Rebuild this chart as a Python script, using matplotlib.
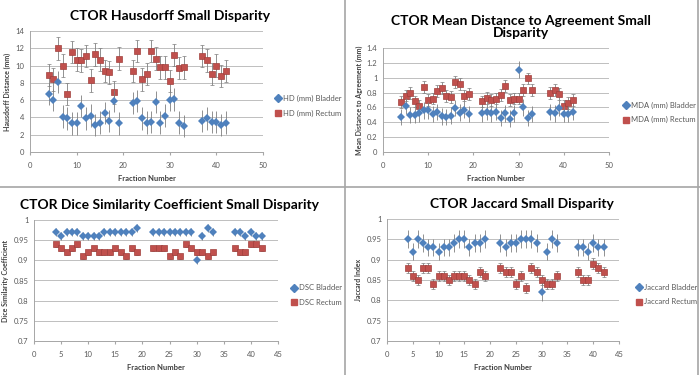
import matplotlib.pyplot as plt
from matplotlib.lines import Line2D

# Fraction numbers (gaps at 20-21 and 34-36)
fractions = list(range(4, 20)) + list(range(22, 34)) + list(range(37, 43))

# fmt: off
hd_bladder = [6.7, 6.0, 8.1, 4.1, 3.9, 3.3, 3.3, 5.3, 3.9, 4.2, 3.1, 3.4, 4.5, 3.6, 5.9, 3.3,
              5.7, 5.9, 3.9, 3.4, 3.5, 5.8, 3.4, 4.2, 6.0, 6.1, 3.4, 3.0,
              3.6, 3.9, 3.5, 3.5, 3.1, 3.4]
hd_rectum = [8.9, 8.4, 12.0, 10.0, 6.7, 11.6, 10.7, 10.6, 11.1, 8.3, 11.3, 10.7, 9.4, 9.2, 6.9, 10.8,
             9.4, 11.7, 8.4, 9.0, 11.7, 10.8, 9.8, 9.8, 8.2, 11.2, 9.7, 9.8,
             11.1, 10.6, 9.0, 10.0, 8.8, 9.4]
mda_bladder = [0.47, 0.62, 0.50, 0.50, 0.52, 0.56, 0.56, 0.51, 0.54, 0.48, 0.47, 0.49, 0.59, 0.53, 0.57, 0.51,
               0.52, 0.54, 0.52, 0.54, 0.46, 0.52, 0.45, 0.52, 1.11, 0.60, 0.46, 0.51,
               0.54, 0.52, 0.59, 0.51, 0.51, 0.54]
mda_rectum = [0.67, 0.76, 0.80, 0.68, 0.62, 0.87, 0.70, 0.72, 0.82, 0.86, 0.75, 0.74, 0.94, 0.91, 0.76, 0.78,
              0.68, 0.73, 0.70, 0.72, 0.77, 0.89, 0.70, 0.72, 0.72, 0.84, 0.99, 0.84,
              0.79, 0.83, 0.78, 0.62, 0.66, 0.70]
dsc_bladder = [0.97, 0.96, 0.97, 0.97, 0.97, 0.96, 0.96, 0.96, 0.96, 0.97, 0.97, 0.97, 0.97, 0.97, 0.97, 0.98,
               0.97, 0.97, 0.97, 0.97, 0.97, 0.97, 0.97, 0.97, 0.90, 0.96, 0.98, 0.97,
               0.97, 0.97, 0.96, 0.97, 0.96, 0.96]
dsc_rectum = [0.94, 0.93, 0.92, 0.93, 0.94, 0.91, 0.92, 0.93, 0.92, 0.92, 0.92, 0.93, 0.92, 0.91, 0.93, 0.92,
              0.93, 0.93, 0.93, 0.91, 0.92, 0.91, 0.94, 0.93, 0.92, 0.92, 0.91, 0.92,
              0.93, 0.92, 0.92, 0.94, 0.94, 0.93]
jac_bladder = [0.95, 0.92, 0.95, 0.94, 0.93, 0.93, 0.92, 0.93, 0.93, 0.94, 0.95, 0.95, 0.93, 0.94, 0.94, 0.95,
               0.94, 0.93, 0.94, 0.94, 0.95, 0.95, 0.95, 0.94, 0.82, 0.92, 0.95, 0.94,
               0.93, 0.93, 0.92, 0.94, 0.93, 0.93]
jac_rectum = [0.88, 0.86, 0.85, 0.88, 0.88, 0.84, 0.86, 0.86, 0.85, 0.86, 0.86, 0.86, 0.85, 0.84, 0.87, 0.86,
              0.88, 0.87, 0.87, 0.84, 0.86, 0.83, 0.88, 0.87, 0.85, 0.84, 0.84, 0.86,
              0.87, 0.85, 0.85, 0.89, 0.88, 0.87]
# fmt: on

plt.rcParams["font.family"] = ["Lato", "DejaVu Sans"]

BLUE = "#4F81BD"
RED = "#C0504D"
GRID = "#BFBFBF"
TXT = "#595959"


def panel(rect, title, title_x, ylabel, blue, red, blue_err, red_err, labels, ylim, yticks, xmax, legend_x):
    ax = fig.add_axes(rect)
    ax.errorbar(fractions, red, yerr=red_err, fmt="s", color=RED, ms=4.5, mec="#A0403D", mew=0.5,
                ecolor="#7F7F7F", elinewidth=0.6, capsize=1.6, capthick=0.6, zorder=3)
    ax.errorbar(fractions, blue, yerr=blue_err, fmt="D", color=BLUE, ms=3.6, mew=0,
                ecolor="#7F7F7F", elinewidth=0.6, capsize=1.6, capthick=0.6, zorder=4)
    ax.set_xlim(0, xmax)
    ax.set_xticks(range(0, xmax + 1, 5 if xmax == 45 else 10))
    ax.set_ylim(*ylim)
    ax.set_yticks(yticks)
    ax.set_yticklabels([f"{t:g}" for t in yticks])
    ax.grid(axis="y", color=GRID, linewidth=0.7)
    ax.set_axisbelow(True)
    for s in ["top", "right"]:
        ax.spines[s].set_visible(False)
    for s in ["left", "bottom"]:
        ax.spines[s].set_color("#A6A6A6")
        ax.spines[s].set_linewidth(0.7)
    ax.tick_params(axis="x", length=2.5, color="#A6A6A6", labelsize=5.5, labelcolor=TXT, pad=5)
    ax.tick_params(axis="y", length=0, labelsize=5.5, labelcolor=TXT, pad=4)
    ax.set_title(title, fontsize=10, fontweight="bold", pad=8, linespacing=1.0, x=title_x)
    ax.set_xlabel("Fraction Number", fontsize=5.5, fontweight="bold", color="#404040", labelpad=4)
    ax.set_ylabel(ylabel, fontsize=5, fontweight="bold", color="#404040", labelpad=3)
    handles = [Line2D([], [], marker="D", ls="", color=BLUE, ms=3.6),
               Line2D([], [], marker="s", ls="", color=RED, ms=4.5)]
    ax.legend(handles, labels, loc="center left", bbox_to_anchor=(legend_x, 0.38), frameon=False,
              fontsize=5.5, labelcolor=TXT, handletextpad=0.1, handlelength=1.0, labelspacing=1.0,
              borderaxespad=0, borderpad=0)
    return ax


fig = plt.figure(figsize=(7, 3.75), dpi=100)
W, H = 700, 375


def r(x0, y0, x1, y1):
    return [x0 / W, 1 - y1 / H, (x1 - x0) / W, (y1 - y0) / H]


panel(r(30, 31, 263, 152), "CTOR Hausdorff Small Disparity", 0.6, "Hausdorff Distance (mm)",
      hd_bladder, hd_rectum, 1.3, 1.3, ["HD (mm) Bladder", "HD (mm) Rectum"],
      (0, 14), list(range(0, 15, 2)), 50, 1.05)
panel(r(383, 48, 609, 152), "CTOR Mean Distance to Agreement Small\nDisparity", 0.61,
      "Mean Distance to Agreement (mm)",
      mda_bladder, mda_rectum, 0.11, 0.08, ["MDA (mm) Bladder", "MDA (mm) Rectum"],
      (0, 1.4), [0, 0.2, 0.4, 0.6, 0.8, 1, 1.2, 1.4], 50, 1.06)
panel(r(34, 220, 278, 341), "CTOR Dice Similarity Coefficient Small Disparity", 0.555,
      "Dice Similarity Coefficient",
      dsc_bladder, dsc_rectum, 0.01, 0.006, ["DSC Bladder", "DSC Rectum"],
      (0.7, 1), [0.7, 0.75, 0.8, 0.85, 0.9, 0.95, 1], 45, 1.05)
panel(r(387, 219, 619, 341), "CTOR Jaccard Small Disparity", 0.58, "Jaccard Index",
      jac_bladder, jac_rectum, 0.022, 0.013, ["Jaccard Bladder", "Jaccard Rectum"],
      (0.7, 1), [0.7, 0.75, 0.8, 0.85, 0.9, 0.95, 1], 45, 1.07)

# panel divider lines
for x0, y0, x1, y1 in [(345, 0, 345, 375), (0, 187, 700, 187), (698, 0, 698, 375)]:
    fig.add_artist(Line2D([x0 / W, x1 / W], [1 - y0 / H, 1 - y1 / H], color="#A6A6A6", lw=1.2))

fig.savefig("out.png", dpi=100)
